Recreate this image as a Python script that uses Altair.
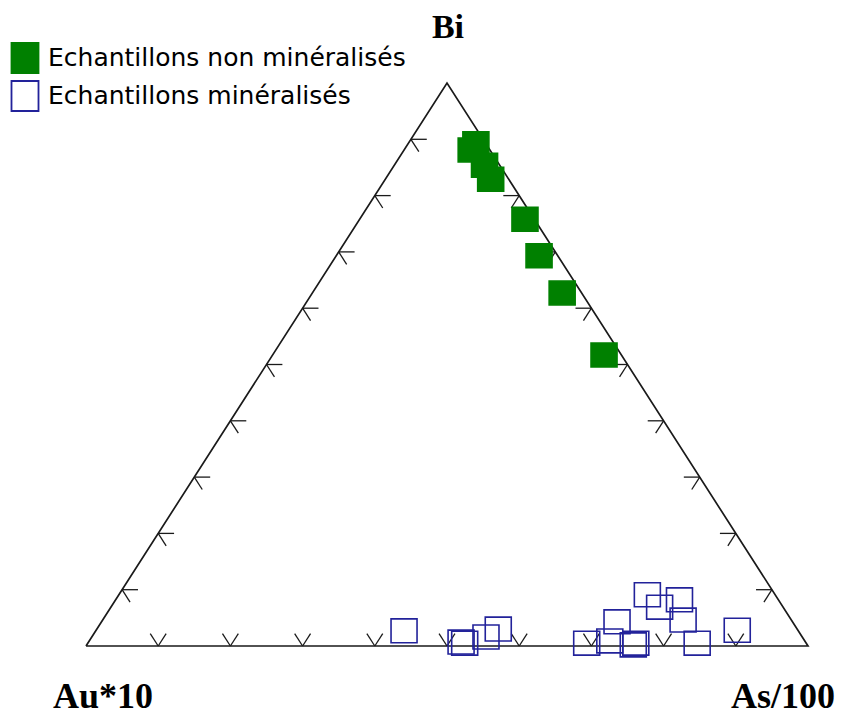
import altair as alt
import pandas as pd

# ---- Data (ternary compositions, %) ----
# Echantillons non minéralisés
non_bi = [89.2, 88.1, 85.4, 82.9, 75.8, 69.3, 62.7, 51.7]
non_as = [9.4, 9.3, 12.5, 14.6, 22.9, 28.1, 34.6, 45.9]
non_au = [1.4, 2.6, 2.1, 2.5, 1.3, 2.6, 2.7, 2.4]

# Echantillons minéralisés
min_bi = [2.7, 0.7, 0.5, 1.6, 3.0, 0.5, 0.9, 4.3, 0.2, 0.5, 9.1, 6.9, 8.2, 4.6, 0.5, 2.8]
min_as = [42.7, 51.6, 52.2, 54.6, 55.6, 69.1, 72.1, 71.4, 75.7, 75.9, 73.2, 76.0, 78.1, 80.4, 84.4, 88.8]
min_au = [54.6, 47.7, 47.3, 43.8, 41.4, 30.4, 27.0, 24.3, 24.1, 23.6, 17.7, 17.1, 13.7, 15.0, 15.1, 8.4]

group_labels = ["Echantillons non minéralisés", "Echantillons minéralisés"]
vertex_labels = ["Au*10", "As/100", "Bi"]
tick_fracs = [0.1, 0.2, 0.3, 0.4, 0.5, 0.6, 0.7, 0.8, 0.9]


def to_xy(bi, as_, au):
    s = bi + as_ + au
    return (as_ + 0.5 * bi) / s, bi / s


rows = []
for g, (B, A, U) in zip(group_labels, [(non_bi, non_as, non_au), (min_bi, min_as, min_au)]):
    for b, a, u in zip(B, A, U):
        x, y = to_xy(b, a, u)
        rows.append({"x": x, "y": y, "group": g, "Bi": b, "As": a, "Au": u})
pts = pd.DataFrame(rows)

# Triangle outline (Au -> As -> Bi -> Au)
tri = pd.DataFrame({
    "x": [0.0, 1.0, 0.5, 0.0],
    "y": [0.0, 0.0, 1.0, 0.0],
    "o": [0, 1, 2, 3],
})

# Tick marks: two short segments parallel to the other two sides
d = 0.022
trows = []
for t in tick_fracs:
    # bottom edge (Au-As)
    trows.append({"x": t, "y": 0, "x2": t + 0.5 * d, "y2": d})
    trows.append({"x": t, "y": 0, "x2": t - 0.5 * d, "y2": d})
    # left edge (Au-Bi)
    trows.append({"x": 0.5 * t, "y": t, "x2": 0.5 * t + d, "y2": t})
    trows.append({"x": 0.5 * t, "y": t, "x2": 0.5 * t + 0.5 * d, "y2": t - d})
    # right edge (As-Bi)
    trows.append({"x": 1 - 0.5 * t, "y": t, "x2": 1 - 0.5 * t - d, "y2": t})
    trows.append({"x": 1 - 0.5 * t, "y": t, "x2": 1 - 0.5 * t - 0.5 * d, "y2": t - d})
ticks = pd.DataFrame(trows)

verts = pd.DataFrame({"label": vertex_labels, "x": [0.0, 1.0, 0.5], "y": [0.0, 0.0, 1.0]})

xs = alt.Scale(domain=[0, 1], nice=False, zero=False)
ys = alt.Scale(domain=[0, 1], nice=False, zero=False)

outline = alt.Chart(tri).mark_line(color="#1a1a1a", strokeWidth=1.7, strokeJoin="miter").encode(
    x=alt.X("x:Q", scale=xs, axis=None),
    y=alt.Y("y:Q", scale=ys, axis=None),
    order="o:Q",
)

tick_layer = alt.Chart(ticks).mark_rule(color="#1a1a1a", strokeWidth=1.3).encode(
    x=alt.X("x:Q", scale=xs, axis=None),
    y=alt.Y("y:Q", scale=ys, axis=None),
    x2="x2:Q",
    y2="y2:Q",
)

RECT = "M-1,-0.92L1,-0.92L1,0.92L-1,0.92Z"
LEG_RECT = "M-0.9,-1L0.9,-1L0.9,1L-0.9,1Z"

legend = alt.Legend(
    title=None,
    orient="none",
    legendX=-77,
    legendY=-41,
    symbolType=LEG_RECT,
    symbolSize=900,
    symbolStrokeWidth=1.8,
    labelFont="DejaVu Sans",
    labelFontSize=25,
    labelColor="black",
    labelOffset=7,
    labelLimit=700,
    rowPadding=0,
    padding=0,
    symbolOffset=0,
)

points = alt.Chart(pts).mark_point(shape=RECT, size=676, strokeWidth=1.6, opacity=1, filled=False).encode(
    x=alt.X("x:Q", scale=xs, axis=None),
    y=alt.Y("y:Q", scale=ys, axis=None),
    color=alt.Color("group:N", scale=alt.Scale(domain=group_labels, range=["#008000", "#22229a"]), legend=legend),
    fill=alt.Fill("group:N", scale=alt.Scale(domain=group_labels, range=["#008000", "transparent"]), legend=legend),
)

offsets = {"Au*10": (17, 62), "As/100": (-25, 62), "Bi": (1, -45)}
sizes = {"Au*10": 36, "As/100": 36, "Bi": 34}
label_layers = []
for lab in vertex_labels:
    dx, dy = offsets[lab]
    label_layers.append(
        alt.Chart(verts).transform_filter(alt.datum.label == lab).mark_text(
            font="Liberation Serif", fontWeight="bold", fontSize=sizes[lab], color="black",
            align="center", baseline="alphabetic", dx=dx, dy=dy,
        ).encode(
            x=alt.X("x:Q", scale=xs, axis=None),
            y=alt.Y("y:Q", scale=ys, axis=None),
            text="label:N",
        )
    )

chart = alt.layer(outline, tick_layer, points, *label_layers).properties(
    width=722,
    height=563,
    autosize=alt.AutoSizeParams(type="none"),
    padding={"left": 78, "top": 75, "right": 30, "bottom": 71},
).configure_view(stroke=None)

chart.save("out.html", embed_options={"renderer": "svg", "actions": False})
